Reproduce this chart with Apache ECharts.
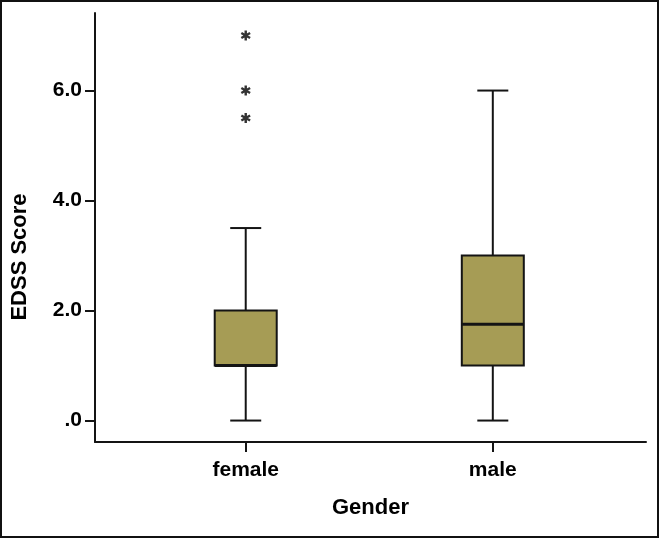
<!DOCTYPE html>
<html>
<head>
<meta charset="utf-8">
<script src="https://cdn.jsdelivr.net/npm/echarts@6/dist/echarts.min.js"></script>
<style>html,body{margin:0;padding:0;background:#fff}#c{width:659px;height:538px}</style>
</head>
<body>
<div id="c"></div>
<script>
// Data
var categories = ['female', 'male'];
// [min, Q1, median, Q3, max]
var femaleBox = [0, 1, 1, 2, 3.5];
var maleBox = [0, 1, 1.75, 3, 6];
var femaleOutliers = [5.5, 6, 7];
var maleOutliers = [];
var yTicks = [0, 2, 4, 6];
var yAxisTitle = 'EDSS Score';
var xAxisTitle = 'Gender';

var boxes = [femaleBox, maleBox];
var boxData = boxes.map(function (b, i) { return [i].concat(b); });
var outlierData = [];
[femaleOutliers, maleOutliers].forEach(function (arr, i) {
  arr.forEach(function (v) { outlierData.push([i, v]); });
});

var asterisk = 'path://M-1.2,5 L1.2,5 L1.2,-5 L-1.2,-5 Z M3.73,3.56 L4.93,1.48 L-3.73,-3.56 L-4.93,-1.48 Z M-4.93,1.48 L-3.73,3.56 L4.93,-1.48 L3.73,-3.56 Z';

var BOX_W = 62, CAP_W = 31;
var INK = '#141414';

function renderBox(params, api) {
  var x = api.value(0);
  var pMin = api.coord([x, api.value(1)]);
  var pQ1 = api.coord([x, api.value(2)]);
  var pMed = api.coord([x, api.value(3)]);
  var pQ3 = api.coord([x, api.value(4)]);
  var pMax = api.coord([x, api.value(5)]);
  var cx = pMin[0];
  var line = { stroke: INK, lineWidth: 2 };
  return {
    type: 'group',
    children: [
      { type: 'line', shape: { x1: cx, y1: pMax[1], x2: cx, y2: pQ3[1] }, style: line },
      { type: 'line', shape: { x1: cx, y1: pQ1[1], x2: cx, y2: pMin[1] }, style: line },
      { type: 'line', shape: { x1: cx - CAP_W / 2, y1: pMax[1], x2: cx + CAP_W / 2, y2: pMax[1] }, style: line },
      { type: 'line', shape: { x1: cx - CAP_W / 2, y1: pMin[1], x2: cx + CAP_W / 2, y2: pMin[1] }, style: line },
      { type: 'rect', shape: { x: cx - BOX_W / 2, y: pQ3[1], width: BOX_W, height: pQ1[1] - pQ3[1] },
        style: { fill: '#A69C55', stroke: INK, lineWidth: 2 } },
      { type: 'line', shape: { x1: cx - BOX_W / 2, y1: pMed[1], x2: cx + BOX_W / 2, y2: pMed[1] },
        style: { stroke: INK, lineWidth: 3 } }
    ]
  };
}

var FONT = 'Liberation Sans, Arial, sans-serif';
var chart = echarts.init(document.getElementById('c'), null, { renderer: 'canvas' });
chart.setOption({
  animation: false,
  backgroundColor: '#ffffff',
  grid: { left: 95, right: 13, top: 13, bottom: 96, containLabel: false },
  xAxis: {
    type: 'value',
    min: -0.61,
    max: 1.62,
    splitLine: { show: false },
    axisLine: { show: true, onZero: false, lineStyle: { color: INK, width: 2 } },
    axisTick: { show: true, customValues: [0, 1], length: 10, lineStyle: { color: INK, width: 2 } },
    axisLabel: {
      customValues: [0, 1],
      formatter: function (v) { return categories[Math.round(v)]; },
      margin: 18, fontSize: 21, fontWeight: 'bold', color: '#000', fontFamily: FONT
    },
    name: xAxisTitle,
    nameLocation: 'middle',
    nameGap: 55,
    nameTextStyle: { fontSize: 22, fontWeight: 'bold', color: '#000', fontFamily: FONT }
  },
  yAxis: {
    type: 'value',
    min: -0.39,
    max: 7.41,
    splitLine: { show: false },
    axisLine: { show: true, onZero: false, lineStyle: { color: INK, width: 2 } },
    axisTick: { show: true, customValues: yTicks, length: 10, lineStyle: { color: INK, width: 2 } },
    axisLabel: {
      customValues: yTicks,
      formatter: function (v) { return v === 0 ? '.0' : v.toFixed(1); },
      margin: 13, fontSize: 21, fontWeight: 'bold', color: '#000', fontFamily: FONT
    },
    name: yAxisTitle,
    nameLocation: 'middle',
    nameGap: 64,
    nameTextStyle: { fontSize: 22, fontWeight: 'bold', color: '#000', fontFamily: FONT, padding: [0, 59, 0, 0] }
  },
  series: [
    {
      type: 'custom',
      data: boxData,
      encode: { x: 0, y: [1, 2, 3, 4, 5] },
      renderItem: renderBox,
      silent: true
    },
    {
      type: 'scatter',
      data: outlierData,
      symbol: asterisk,
      symbolSize: 10,
      itemStyle: { color: '#000' },
      z: 5,
      silent: true
    }
  ],
  graphic: [{
    type: 'rect',
    shape: { x: 1, y: 1, width: 657, height: 536 },
    style: { fill: 'none', stroke: '#111', lineWidth: 2 },
    silent: true
  }]
});
</script>
</body>
</html>
